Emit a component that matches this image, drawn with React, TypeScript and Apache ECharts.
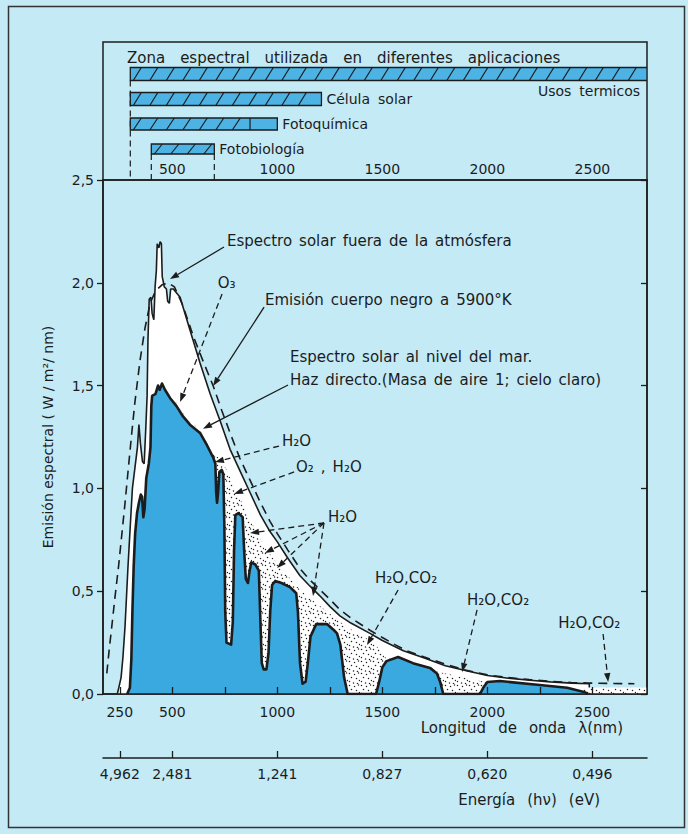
import React, { useEffect, useRef } from "react";
import * as echarts from "echarts";

const FONT = '"DejaVu Sans", "Liberation Sans", sans-serif';
const INK = "#1c1c1c";
const BG = "#c4eaf6";
const BLUE = "#3aa9e0";
const BAR_BLUE = "#4db3e4";

// ---- axes ----
const waveTickValues = [250, 500, 750, 1000, 1250, 1500, 1750, 2000, 2250, 2500];
const waveLabelValues = [250, 500, 1000, 1500, 2000, 2500];
const topLabelValues = [500, 1000, 1500, 2000, 2500];
const energyTickValues = [250, 500, 1000, 1500, 2000, 2500];
const energyLabels = ["4,962", "2,481", "1,241", "0,827", "0,620", "0,496"];

// ---- applications (top box) ----
const titleWords = ["Zona", "espectral", "utilizada", "en", "diferentes", "aplicaciones"];
const appNames = ["Usos termicos", "Célula solar", "Fotoquímica", "Fotobiología"];
const appStart = [300, 300, 300, 400];
const appEnd = [2760, 1210, 1000, 700];
const appHatchEnd = [2760, 1210, 870, 700];
const appRow = [0, 1, 2, 3];
const guideX = [300, 400, 700];
const guideRow = [0, 3, 3];

// ---- spectra (nm, W/m2/nm) ----
const blackbody: number[][] = [
  [188, 0.1], [200, 0.22], [212, 0.33], [227, 0.47], [245, 0.63], [260, 0.78], [275, 0.93],
  [289, 1.08], [305, 1.25], [322, 1.42], [346, 1.62], [370, 1.78], [394, 1.9], [420, 1.96],
  [451, 1.99], [480, 2.0], [510, 1.98], [550, 1.89], [600, 1.74], [650, 1.61], [694, 1.5],
  [735, 1.38], [775, 1.27], [820, 1.15], [870, 1.04], [920, 0.93], [965, 0.84], [1000, 0.78],
  [1050, 0.7], [1108, 0.61], [1150, 0.56], [1200, 0.51], [1251, 0.46], [1298, 0.41],
  [1350, 0.37], [1441, 0.31], [1500, 0.275], [1560, 0.24], [1618, 0.21], [1700, 0.18],
  [1800, 0.145], [1900, 0.115], [2000, 0.093], [2100, 0.08], [2200, 0.07], [2300, 0.062],
  [2400, 0.056], [2480, 0.053], [2600, 0.051], [2700, 0.05],
];

const extraterrestrial: number[][] = [
  [238, 0], [245, 0.03], [256, 0.08], [265, 0.18], [275, 0.33], [289, 0.62], [300, 0.82],
  [310, 1.0], [322, 1.1], [334, 1.2], [341, 1.31], [348, 1.22], [358, 1.13], [366, 1.12],
  [374, 1.3], [380, 1.45], [384, 1.72], [390, 1.92], [398, 1.93], [404, 1.85], [412, 1.82],
  [418, 1.98], [424, 2.06], [428, 2.19], [436, 2.17], [442, 2.2], [448, 2.19], [452, 2.03],
  [462, 1.98], [472, 1.97], [478, 1.91], [486, 1.9], [492, 1.97], [505, 1.97], [537, 1.93],
  [584, 1.77], [632, 1.61], [680, 1.46], [727, 1.33], [775, 1.19], [820, 1.09], [870, 0.98],
  [920, 0.87], [965, 0.79], [1000, 0.74], [1050, 0.66], [1108, 0.575], [1150, 0.53],
  [1200, 0.48], [1251, 0.425], [1298, 0.38], [1350, 0.345], [1441, 0.295], [1500, 0.26],
  [1600, 0.21], [1700, 0.175], [1800, 0.137], [1900, 0.113], [2000, 0.09], [2100, 0.077],
  [2200, 0.067], [2300, 0.059], [2400, 0.053], [2485, 0.05], [2486, 0],
];

// upper edge of the stippled (absorbed) region
const absorbed: number[][] = [
  [470, 1.47], [489, 1.455], [520, 1.415], [551, 1.365], [584, 1.325], [632, 1.285],
  [665, 1.225], [695, 1.17], [720, 1.15], [760, 1.09], [800, 1.0], [850, 0.89], [900, 0.79],
  [950, 0.7], [1000, 0.635], [1050, 0.575], [1100, 0.515], [1150, 0.47], [1200, 0.43],
  [1250, 0.39], [1300, 0.35], [1350, 0.315], [1400, 0.285], [1450, 0.255], [1490, 0.215],
  [1520, 0.17], [1575, 0.18], [1646, 0.15], [1727, 0.127], [1760, 0.11], [1800, 0.1],
  [1850, 0.09], [1900, 0.078], [1950, 0.066], [2000, 0.058], [2010, 0],
];
const absorbedTail: number[][] = [[2455, 0.032], [2760, 0.032]];

const seaLevel: number[][] = [
  [285, 0], [298, 0.03], [305, 0.17], [310, 0.4], [316, 0.62], [323, 0.78], [332, 0.88],
  [341, 0.93], [350, 0.97], [356, 0.96], [362, 0.86], [368, 0.9], [376, 1.05], [388, 1.12],
  [396, 1.2], [400, 1.4], [404, 1.45], [420, 1.46], [432, 1.5], [440, 1.48], [451, 1.51],
  [465, 1.48], [489, 1.44], [520, 1.4], [551, 1.35], [584, 1.31], [632, 1.27], [665, 1.21],
  [695, 1.15], [705, 1.12], [709, 0.98], [713, 0.93], [718, 0.98], [724, 1.08], [735, 1.09],
  [743, 1.07], [748, 0.8], [752, 0.4], [758, 0.25], [780, 0.24], [788, 0.35], [794, 0.7],
  [800, 0.87], [815, 0.88], [835, 0.86], [842, 0.7], [850, 0.56], [860, 0.54], [868, 0.6],
  [876, 0.64], [895, 0.63], [912, 0.6], [918, 0.4], [926, 0.15], [935, 0.12], [948, 0.12],
  [958, 0.2], [966, 0.4], [975, 0.53], [990, 0.55], [1020, 0.54], [1060, 0.52], [1090, 0.49],
  [1098, 0.4], [1108, 0.15], [1120, 0.05], [1135, 0.06], [1145, 0.15], [1158, 0.28],
  [1185, 0.34], [1236, 0.34], [1270, 0.31], [1284, 0.295], [1300, 0.24], [1318, 0.08],
  [1335, 0], [1470, 0], [1485, 0.06], [1500, 0.13], [1520, 0.16], [1575, 0.18], [1646, 0.15],
  [1727, 0.127], [1760, 0.1], [1775, 0.06], [1790, 0], [1965, 0], [1980, 0.03], [2000, 0.058],
  [2060, 0.063], [2250, 0.044], [2380, 0.03], [2460, 0.01], [2480, 0],
];

// ---- annotations, in data coordinates (nm, W/m2/nm) ----
type Ann = { text: string; at: number[]; from?: number[]; to?: number[][]; dashed?: boolean };
const annotations: Ann[] = [
  { text: "Espectro solar fuera de la atmósfera", at: [760, 2.203], from: [746, 2.174], to: [[489, 2.018]], dashed: false },
  { text: "Emisión cuerpo negro a 5900°K", at: [941, 1.916], from: [937, 1.882], to: [[694, 1.498]], dashed: false },
  { text: "O₃", at: [716, 1.999], from: [737, 1.946], to: [[537, 1.42]], dashed: true },
  { text: "Espectro solar al nivel del mar.", at: [1060, 1.639] },
  { text: "Haz directo.(Masa de aire 1; cielo claro)", at: [1060, 1.527], from: [1051, 1.503], to: [[646, 1.29]], dashed: false },
  { text: "H₂O", at: [1022, 1.231], from: [1008, 1.206], to: [[703, 1.128]], dashed: true },
  { text: "O₂ , H₂O", at: [1089, 1.104], from: [1080, 1.08], to: [[794, 0.973]], dashed: true },
  { text: "H₂O", at: [1241, 0.861], from: [1222, 0.832], to: [[870, 0.783], [941, 0.686], [999, 0.613], [1170, 0.477]], dashed: true },
  { text: "H₂O,CO₂", at: [1465, 0.564], from: [1575, 0.506], to: [[1427, 0.238]], dashed: true },
  { text: "H₂O,CO₂", at: [1903, 0.457], from: [1951, 0.409], to: [[1880, 0.107]], dashed: true },
  { text: "H₂O,CO₂", at: [2337, 0.345], from: [2551, 0.292], to: [[2575, 0.058]], dashed: true },
];

const barHeights = [13, 13, 12, 10];
const dotTile = [
  [1, 1], [6, 2], [10, 0.5], [3, 5], [8, 6], [11, 8], [1, 9], [5, 10.5], [9, 11],
];

function makeDots(): HTMLCanvasElement {
  const c = document.createElement("canvas");
  c.width = 12;
  c.height = 12;
  const ctx = c.getContext("2d")!;
  ctx.fillStyle = "#ffffff";
  ctx.fillRect(0, 0, 12, 12);
  ctx.fillStyle = "#222222";
  dotTile.forEach(([x, y]) => {
    ctx.beginPath();
    ctx.arc(x + 0.5, y + 0.5, 0.75, 0, Math.PI * 2);
    ctx.fill();
  });
  return c;
}

// words joined by widened gaps (rich text)
function spaced(text: string): string {
  const w = text.split(" ");
  return w.map((s, i) => (i < w.length - 1 ? `{w|${s}}` : `{l|${s}}`)).join("");
}

function arrowEls(p0: number[], p1: number[], dashed: boolean): any[] {
  const dx = p1[0] - p0[0];
  const dy = p1[1] - p0[1];
  const L = Math.hypot(dx, dy) || 1;
  const ux = dx / L;
  const uy = dy / L;
  const hl = 9;
  const hw = 3.2;
  const bx = p1[0] - ux * hl;
  const by = p1[1] - uy * hl;
  return [
    {
      type: "line",
      silent: true,
      shape: { x1: p0[0], y1: p0[1], x2: bx, y2: by },
      style: { stroke: INK, lineWidth: 1.3, lineDash: dashed ? [6, 4] : null },
    },
    {
      type: "polygon",
      silent: true,
      shape: { points: [[p1[0], p1[1]], [bx - uy * hw, by + ux * hw], [bx + uy * hw, by - ux * hw]] },
      style: { fill: INK },
    },
  ];
}

const plain = (v: number) => String(Math.round(v));

export default function App() {
  const ref = useRef<HTMLDivElement>(null);
  useEffect(() => {
    if (!ref.current) return;
    const chart = echarts.init(ref.current, undefined, { renderer: "svg" });
    const dots = makeDots();
    const dotFill: any = { image: dots, repeat: "repeat" };
    const label14 = { fontSize: 14, color: INK, fontFamily: FONT };

    chart.setOption({
      animation: false,
      backgroundColor: BG,
      title: {
        text: spaced(titleWords.join(" ")),
        left: 122,
        top: 45,
        textStyle: {
          fontSize: 15, fontWeight: "normal", color: INK, fontFamily: FONT,
          rich: {
            w: { fontSize: 15, color: INK, fontFamily: FONT, padding: [0, 15, 0, 0] },
            l: { fontSize: 15, color: INK, fontFamily: FONT },
          },
        },
      },
      grid: [
        { left: 103, top: 42, width: 544, height: 138, show: true, borderColor: INK, borderWidth: 1.5, backgroundColor: "transparent" },
        { left: 103, top: 180, width: 544, height: 514, show: true, borderColor: INK, borderWidth: 1.5, backgroundColor: "transparent" },
        { left: 103, top: 700, width: 544, height: 58, show: false },
      ],
      xAxis: [
        {
          gridIndex: 0, type: "value", min: 170, max: 2760, position: "bottom",
          axisLine: { show: false }, axisTick: { show: false }, splitLine: { show: false },
          axisLabel: { ...label14, inside: true, margin: 4, customValues: topLabelValues, formatter: plain },
        },
        {
          gridIndex: 1, type: "value", min: 170, max: 2760, position: "bottom", z: 10,
          axisLine: { show: true, lineStyle: { color: INK, width: 1.5 } },
          axisTick: { show: true, inside: true, length: 7, lineStyle: { color: INK, width: 1.3 }, customValues: waveTickValues },
          splitLine: { show: false },
          axisLabel: { ...label14, margin: 11, customValues: waveLabelValues, formatter: plain },
        },
        {
          gridIndex: 2, type: "value", min: 170, max: 2760, position: "bottom",
          axisLine: { show: true, lineStyle: { color: INK, width: 1.5 } },
          axisTick: { show: true, inside: true, length: 7, lineStyle: { color: INK, width: 1.3 }, customValues: energyTickValues },
          splitLine: { show: false },
          axisLabel: {
            ...label14, margin: 9, customValues: energyTickValues,
            formatter: (v: number) => {
              const i = energyTickValues.indexOf(Math.round(v));
              return i >= 0 ? energyLabels[i] : "";
            },
          },
        },
      ],
      yAxis: [
        { gridIndex: 0, type: "value", min: -1.28, max: 4.24, inverse: true, show: false },
        {
          gridIndex: 1, type: "value", min: 0, max: 2.5, interval: 0.5, position: "left", z: 10,
          axisLine: { show: true, lineStyle: { color: INK, width: 1.5 } },
          axisTick: { show: true, inside: false, length: 6, lineStyle: { color: INK, width: 1.3 } },
          splitLine: { show: false },
          axisLabel: { ...label14, margin: 9, formatter: (v: number) => v.toFixed(1).replace(".", ",") },
          name: "Emisión espectral ( W / m²/ nm)",
          nameLocation: "middle",
          nameGap: 48,
          nameRotate: 90,
          nameTextStyle: { fontSize: 14, color: INK, fontFamily: FONT },
        },
        {
          gridIndex: 1, type: "value", min: 0, max: 2.5, interval: 0.5, position: "right", z: 10,
          axisLine: { show: true, lineStyle: { color: INK, width: 1.5 } },
          axisTick: { show: true, inside: true, length: 6, lineStyle: { color: INK, width: 1.3 } },
          splitLine: { show: false },
          axisLabel: { show: false },
        },
        { gridIndex: 2, type: "value", min: 0, max: 1, show: false },
      ],
      series: [
        {
          type: "custom",
          name: "guides",
          xAxisIndex: 0,
          yAxisIndex: 0,
          silent: true,
          data: guideX.map((x, i) => [x, guideRow[i]]),
          renderItem: (params: any, api: any) => {
            const cs = params.coordSys;
            const p = api.coord([api.value(0), api.value(1)]);
            const h = barHeights[Math.round(api.value(1))];
            return {
              type: "line",
              shape: { x1: p[0], y1: p[1] + h / 2, x2: p[0], y2: cs.y + cs.height },
              style: { stroke: INK, lineWidth: 1.2, lineDash: [6, 4] },
            };
          },
        },
        {
          type: "custom",
          name: "aplicaciones",
          xAxisIndex: 0,
          yAxisIndex: 0,
          silent: true,
          clip: true,
          data: appNames.map((n, i) => [appStart[i], appEnd[i], appRow[i], appHatchEnd[i]]),
          renderItem: (params: any, api: any) => {
            const i = params.dataIndex;
            const cs = params.coordSys;
            const row = api.value(2);
            const p0 = api.coord([api.value(0), row]);
            const p1 = api.coord([api.value(1), row]);
            const ph = api.coord([api.value(3), row]);
            const h = barHeights[i];
            const x0 = p0[0];
            const x1 = Math.min(p1[0], cs.x + cs.width);
            const xh = Math.min(ph[0], x1);
            const y0 = p0[1] - h / 2;
            const children: any[] = [
              {
                type: "rect",
                shape: { x: x0, y: y0, width: x1 - x0, height: h },
                style: { fill: BAR_BLUE, stroke: INK, lineWidth: 1.3 },
              },
            ];
            for (let x = x0 + 3; x + 8 <= xh - 1; x += 16.5) {
              children.push({
                type: "line",
                shape: { x1: x, y1: y0 + h, x2: x + 8, y2: y0 },
                style: { stroke: INK, lineWidth: 1.2 },
              });
            }
            if (xh < x1 - 1) {
              children.push({
                type: "line",
                shape: { x1: xh, y1: y0, x2: xh, y2: y0 + h },
                style: { stroke: INK, lineWidth: 1.2 },
              });
            }
            const lblRich = {
              w: { fontSize: 14, fontFamily: FONT, fill: INK, padding: [0, 8, 0, 0] },
              l: { fontSize: 14, fontFamily: FONT, fill: INK },
            };
            if (i === 0) {
              children.push({
                type: "text",
                style: {
                  text: spaced(appNames[i]), rich: lblRich, x: cs.x + cs.width - 7, y: y0 + h + 10,
                  align: "right", verticalAlign: "middle", fill: INK, fontSize: 14, fontFamily: FONT,
                },
              });
            } else {
              children.push({
                type: "text",
                style: {
                  text: spaced(appNames[i]), rich: lblRich, x: x1 + 5, y: y0 + h / 2,
                  align: "left", verticalAlign: "middle", fill: INK, fontSize: 14, fontFamily: FONT,
                },
              });
            }
            return { type: "group", children };
          },
        },
        {
          type: "line",
          name: "Espectro solar fuera de la atmósfera",
          xAxisIndex: 1,
          yAxisIndex: 1,
          data: extraterrestrial,
          showSymbol: false,
          silent: true,
          lineStyle: { color: INK, width: 1.6 },
          areaStyle: { color: "#ffffff", opacity: 1 },
          z: 2,
        },
        {
          type: "line",
          name: "absorción",
          xAxisIndex: 1,
          yAxisIndex: 1,
          data: absorbed,
          showSymbol: false,
          silent: true,
          lineStyle: { width: 0, opacity: 0 },
          areaStyle: { color: dotFill, opacity: 1 },
          z: 3,
        },
        {
          type: "line",
          name: "absorción 2",
          xAxisIndex: 1,
          yAxisIndex: 1,
          data: absorbedTail,
          showSymbol: false,
          silent: true,
          lineStyle: { width: 0, opacity: 0 },
          areaStyle: { color: dotFill, opacity: 1 },
          z: 3,
        },
        {
          type: "line",
          name: "Espectro solar al nivel del mar",
          xAxisIndex: 1,
          yAxisIndex: 1,
          data: seaLevel,
          showSymbol: false,
          silent: true,
          lineStyle: { color: INK, width: 2.6, join: "round" },
          areaStyle: { color: BLUE, opacity: 1 },
          z: 4,
        },
        {
          type: "line",
          name: "Emisión cuerpo negro a 5900°K",
          xAxisIndex: 1,
          yAxisIndex: 1,
          data: blackbody,
          showSymbol: false,
          silent: true,
          lineStyle: { color: INK, width: 1.6, type: [9, 6] },
          z: 5,
        },
      ],
    });

    const toPx = (p: number[]) =>
      chart.convertToPixel({ xAxisIndex: 1, yAxisIndex: 1 }, p) as number[];
    const annRich = {
      w: { fontSize: 15, fontFamily: FONT, fill: INK, padding: [0, 7, 0, 0] },
      l: { fontSize: 15, fontFamily: FONT, fill: INK },
    };
    const g: any[] = [];
    g.push({
      type: "rect",
      silent: true,
      shape: { x: 8.5, y: 6.5, width: 676, height: 821 },
      style: { fill: "none", stroke: "#333333", lineWidth: 1.5 },
      z: 100,
    });
    annotations.forEach((a) => {
      const t = toPx(a.at);
      g.push({
        type: "text",
        silent: true,
        style: {
          text: spaced(a.text), rich: annRich, x: t[0], y: t[1],
          align: "left", verticalAlign: "middle", fill: INK, fontSize: 15, fontFamily: FONT,
        },
        z: 50,
      });
      if (a.from && a.to) {
        const f = toPx(a.from);
        a.to.forEach((tp) => {
          arrowEls(f, toPx(tp), !!a.dashed).forEach((e) => g.push({ ...e, z: 50 }));
        });
      }
    });
    const axRich = {
      w: { fontSize: 15, fontFamily: FONT, fill: INK, padding: [0, 12, 0, 0] },
      l: { fontSize: 15, fontFamily: FONT, fill: INK },
    };
    g.push({
      type: "text",
      silent: true,
      style: {
        text: spaced("Longitud de onda λ(nm)"), rich: axRich, x: 623, y: 728,
        align: "right", verticalAlign: "middle", fill: INK, fontSize: 15, fontFamily: FONT,
      },
    });
    g.push({
      type: "text",
      silent: true,
      style: {
        text: spaced("Energía (hν) (eV)"), rich: axRich, x: 600, y: 800,
        align: "right", verticalAlign: "middle", fill: INK, fontSize: 15, fontFamily: FONT,
      },
    });
    chart.setOption({ graphic: g });

    return () => chart.dispose();
  }, []);

  return (
    <div
      ref={ref}
      style={{ position: "fixed", left: 0, top: 0, width: 688, height: 834 }}
    />
  );
}
